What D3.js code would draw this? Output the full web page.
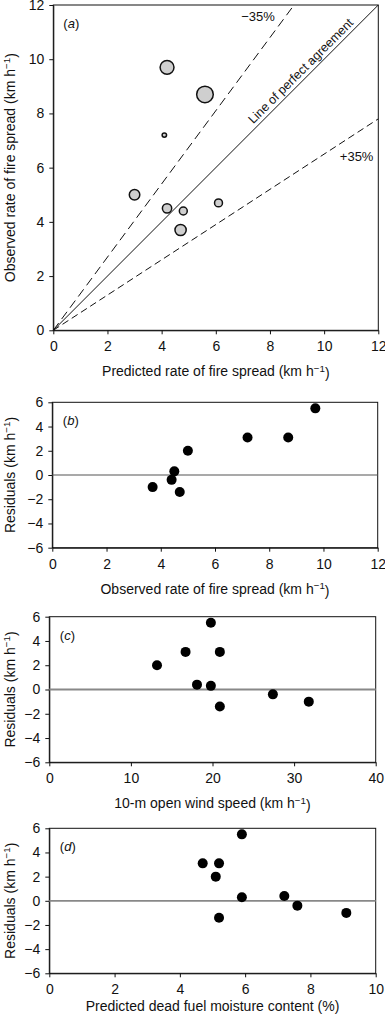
<!DOCTYPE html>
<html>
<head>
<meta charset="utf-8">
<script src="https://cdn.jsdelivr.net/npm/d3@7"></script>
<style>
  body { margin: 0; background: #fff; }
  text { font-family: "Liberation Sans", Arial, Helvetica, sans-serif; fill: #111; }
</style>
</head>
<body>
<div id="chart"></div>
<script>
// panel (a): predicted vs observed rate of spread, bubble size = relative size
var predicted = [4.2, 5.6, 4.1, 3.0, 4.2, 4.8, 4.7, 6.1];
var observed = [9.7, 8.7, 7.2, 5.0, 4.5, 4.4, 3.7, 4.7];
var bubbleSize = [49, 70, 5, 28, 22, 16, 32, 16];
var refSlopes = [1.35, 1, 0.65]; // -35%, 1:1, +35%
var ticksA = [0, 2, 4, 6, 8, 10, 12];

// panel (b): residuals vs observed
var obsB = [9.7, 8.7, 7.2, 5.0, 4.5, 4.4, 4.7, 3.7];
var resB = [5.5, 3.1, 3.1, 2.0, 0.3, -0.4, -1.4, -1.0];

// panel (c): residuals vs 10-m open wind speed
var windC = [19.8, 16.7, 20.9, 13.2, 18.1, 19.8, 20.9, 27.4, 31.8];
var resC = [5.5, 3.1, 3.1, 2.0, 0.4, 0.3, -1.4, -0.4, -1.0];

// panel (d): residuals vs dead fuel moisture
var moistD = [5.9, 4.7, 5.2, 5.1, 5.9, 7.2, 5.2, 7.6, 9.1];
var resD = [5.5, 3.1, 3.1, 2.0, 0.3, 0.4, -1.4, -0.4, -1.0];

var resTicks = [-6, -4, -2, 0, 2, 4, 6];

var svg = d3.select("#chart").append("svg")
    .attr("width", 385).attr("height", 1017);
svg.append("rect").attr("width", 385).attr("height", 1017).attr("fill", "#fff");

function kmh(sel) {
    // "(km h⁻¹)" with superscript
    sel.append("tspan").text("(km h");
    sel.append("tspan").attr("dy", "-0.45em").attr("font-size", "0.7em").text("\u22121");
    sel.append("tspan").attr("dy", "0.45em").text(")");
}

function panelLabel(g, letter, x, y) {
    var t = g.append("text").attr("x", x).attr("y", y).attr("font-size", 13);
    t.append("tspan").text("(");
    t.append("tspan").attr("font-style", "italic").text(letter);
    t.append("tspan").text(")");
}

function drawAxes(g, x, y, xt, yt, w, h, pad) {
    g.append("rect").attr("width", w).attr("height", h)
        .attr("fill", "none").attr("stroke", "#111").attr("stroke-width", 1);
    var xa = g.append("g").attr("transform", "translate(0," + h + ")")
        .call(d3.axisBottom(x).tickValues(xt).tickSize(4).tickSizeOuter(0).tickPadding(pad).tickFormat(d3.format("d")));
    var ya = g.append("g")
        .call(d3.axisLeft(y).tickValues(yt).tickSize(4).tickSizeOuter(0).tickPadding(5).tickFormat(d3.format("d")));
    [xa, ya].forEach(function (a) {
        a.selectAll("text").attr("font-size", 14).attr("font-family", null).style("fill", "#111");
        a.selectAll("line").attr("stroke", "#111");
        a.select(".domain").attr("stroke", "#111");
    });
}

// ---------- panel (a) ----------
(function () {
    var m = { left: 53.3, top: 5 };
    var w = 325, h = 325.3;
    var g = svg.append("g").attr("transform", "translate(" + m.left + "," + m.top + ")");
    var x = d3.scaleLinear().domain([0, 12]).range([0, w]);
    var y = d3.scaleLinear().domain([0, 12]).range([h, 0]);

    drawAxes(g, x, y, ticksA, ticksA, w, h, 7);

    // reference lines through origin, clipped at plot edge
    var dashes = ["9,5", null, "7,4"];
    refSlopes.forEach(function (s, i) {
        var xe = Math.min(12, 12 / s);
        g.append("line")
            .attr("x1", x(0)).attr("y1", y(0))
            .attr("x2", x(xe)).attr("y2", y(xe * s))
            .attr("stroke", "#111").attr("stroke-width", 1)
            .attr("stroke-dasharray", dashes[i]);
    });

    g.append("text").attr("x", x(7.56)).attr("y", y(11.42))
        .attr("text-anchor", "middle").attr("font-size", 13).text("\u221235%");
    g.append("text").attr("x", x(11.2)).attr("y", y(6.25))
        .attr("text-anchor", "middle").attr("font-size", 13).text("+35%");
    g.append("text")
        .attr("transform", "translate(" + x(9.35) + "," + y(9.35) + ") rotate(-45)")
        .attr("y", -4).attr("text-anchor", "middle").attr("font-size", 12.5)
        .text("Line of perfect agreement");

    var r = d3.scaleSqrt().domain([0, d3.max(bubbleSize)]).range([0, 8.3]);
    var pts = predicted.map(function (p, i) { return { x: p, y: observed[i], s: bubbleSize[i] }; });
    g.selectAll(".bubble").data(pts).enter().append("circle")
        .attr("class", "bubble")
        .attr("cx", function (d) { return x(d.x); })
        .attr("cy", function (d) { return y(d.y); })
        .attr("r", function (d) { return r(d.s); })
        .attr("fill", "#cfcfcf").attr("stroke", "#111").attr("stroke-width", 1.5);

    panelLabel(g, "a", 10, 23);

    g.append("text").attr("x", w / 2).attr("y", h + 46)
        .attr("text-anchor", "middle").attr("font-size", 14)
        .text("Predicted rate of fire spread ").call(kmh);
    g.append("text")
        .attr("transform", "translate(" + (14.5 - m.left) + "," + (h / 2) + ") rotate(-90)")
        .attr("text-anchor", "middle").attr("font-size", 14)
        .text("Observed rate of fire spread ").call(kmh);
})();

// ---------- residual panels ----------
function residualPanel(opt) {
    var w = opt.right - opt.left, h = opt.bottom - opt.top;
    var g = svg.append("g").attr("transform", "translate(" + opt.left + "," + opt.top + ")");
    var x = d3.scaleLinear().domain(opt.xDomain).range([0, w]);
    var y = d3.scaleLinear().domain([-6, 6]).range([h, 0]);

    drawAxes(g, x, y, opt.xTicks, resTicks, w, h, 7);

    g.append("line")
        .attr("x1", 0).attr("x2", w).attr("y1", y(0)).attr("y2", y(0))
        .attr("stroke", opt.zeroColor).attr("stroke-width", opt.zeroWidth);

    var pts = opt.xs.map(function (v, i) { return { x: v, y: opt.ys[i] }; });
    g.selectAll(".dot").data(pts).enter().append("circle")
        .attr("class", "dot")
        .attr("cx", function (d) { return x(d.x); })
        .attr("cy", function (d) { return y(d.y); })
        .attr("r", 5).attr("fill", "#000");

    panelLabel(g, opt.letter, 10.5, opt.labelY);

    var xt = g.append("text").attr("x", w / 2).attr("y", h + opt.titleOffset)
        .attr("text-anchor", "middle").attr("font-size", 14).text(opt.xTitle);
    if (opt.units) xt.call(kmh);
    g.append("text")
        .attr("transform", "translate(" + (14.5 - opt.left) + "," + (h / 2) + ") rotate(-90)")
        .attr("text-anchor", "middle").attr("font-size", 14)
        .text("Residuals ").call(kmh);
}

residualPanel({ letter: "b", left: 52.3, right: 377.7, top: 402.3, bottom: 547.7,
    xDomain: [0, 12], xTicks: [0, 2, 4, 6, 8, 10, 12], xs: obsB, ys: resB,
    zeroColor: "#555", zeroWidth: 1.2, labelY: 23,
    xTitle: "Observed rate of fire spread ", units: true, titleOffset: 46 });

residualPanel({ letter: "c", left: 49.3, right: 375.7, top: 616.7, bottom: 762.3,
    xDomain: [0, 40], xTicks: [0, 10, 20, 30, 40], xs: windC, ys: resC,
    zeroColor: "#888", zeroWidth: 1.8, labelY: 23,
    xTitle: "10-m open wind speed ", units: true, titleOffset: 46 });

residualPanel({ letter: "d", left: 49.3, right: 375.7, top: 828.3, bottom: 973.3,
    xDomain: [0, 10], xTicks: [0, 2, 4, 6, 8, 10], xs: moistD, ys: resD,
    zeroColor: "#888", zeroWidth: 1.8, labelY: 23,
    xTitle: "Predicted dead fuel moisture content (%)", units: false, titleOffset: 38 });
</script>
</body>
</html>
